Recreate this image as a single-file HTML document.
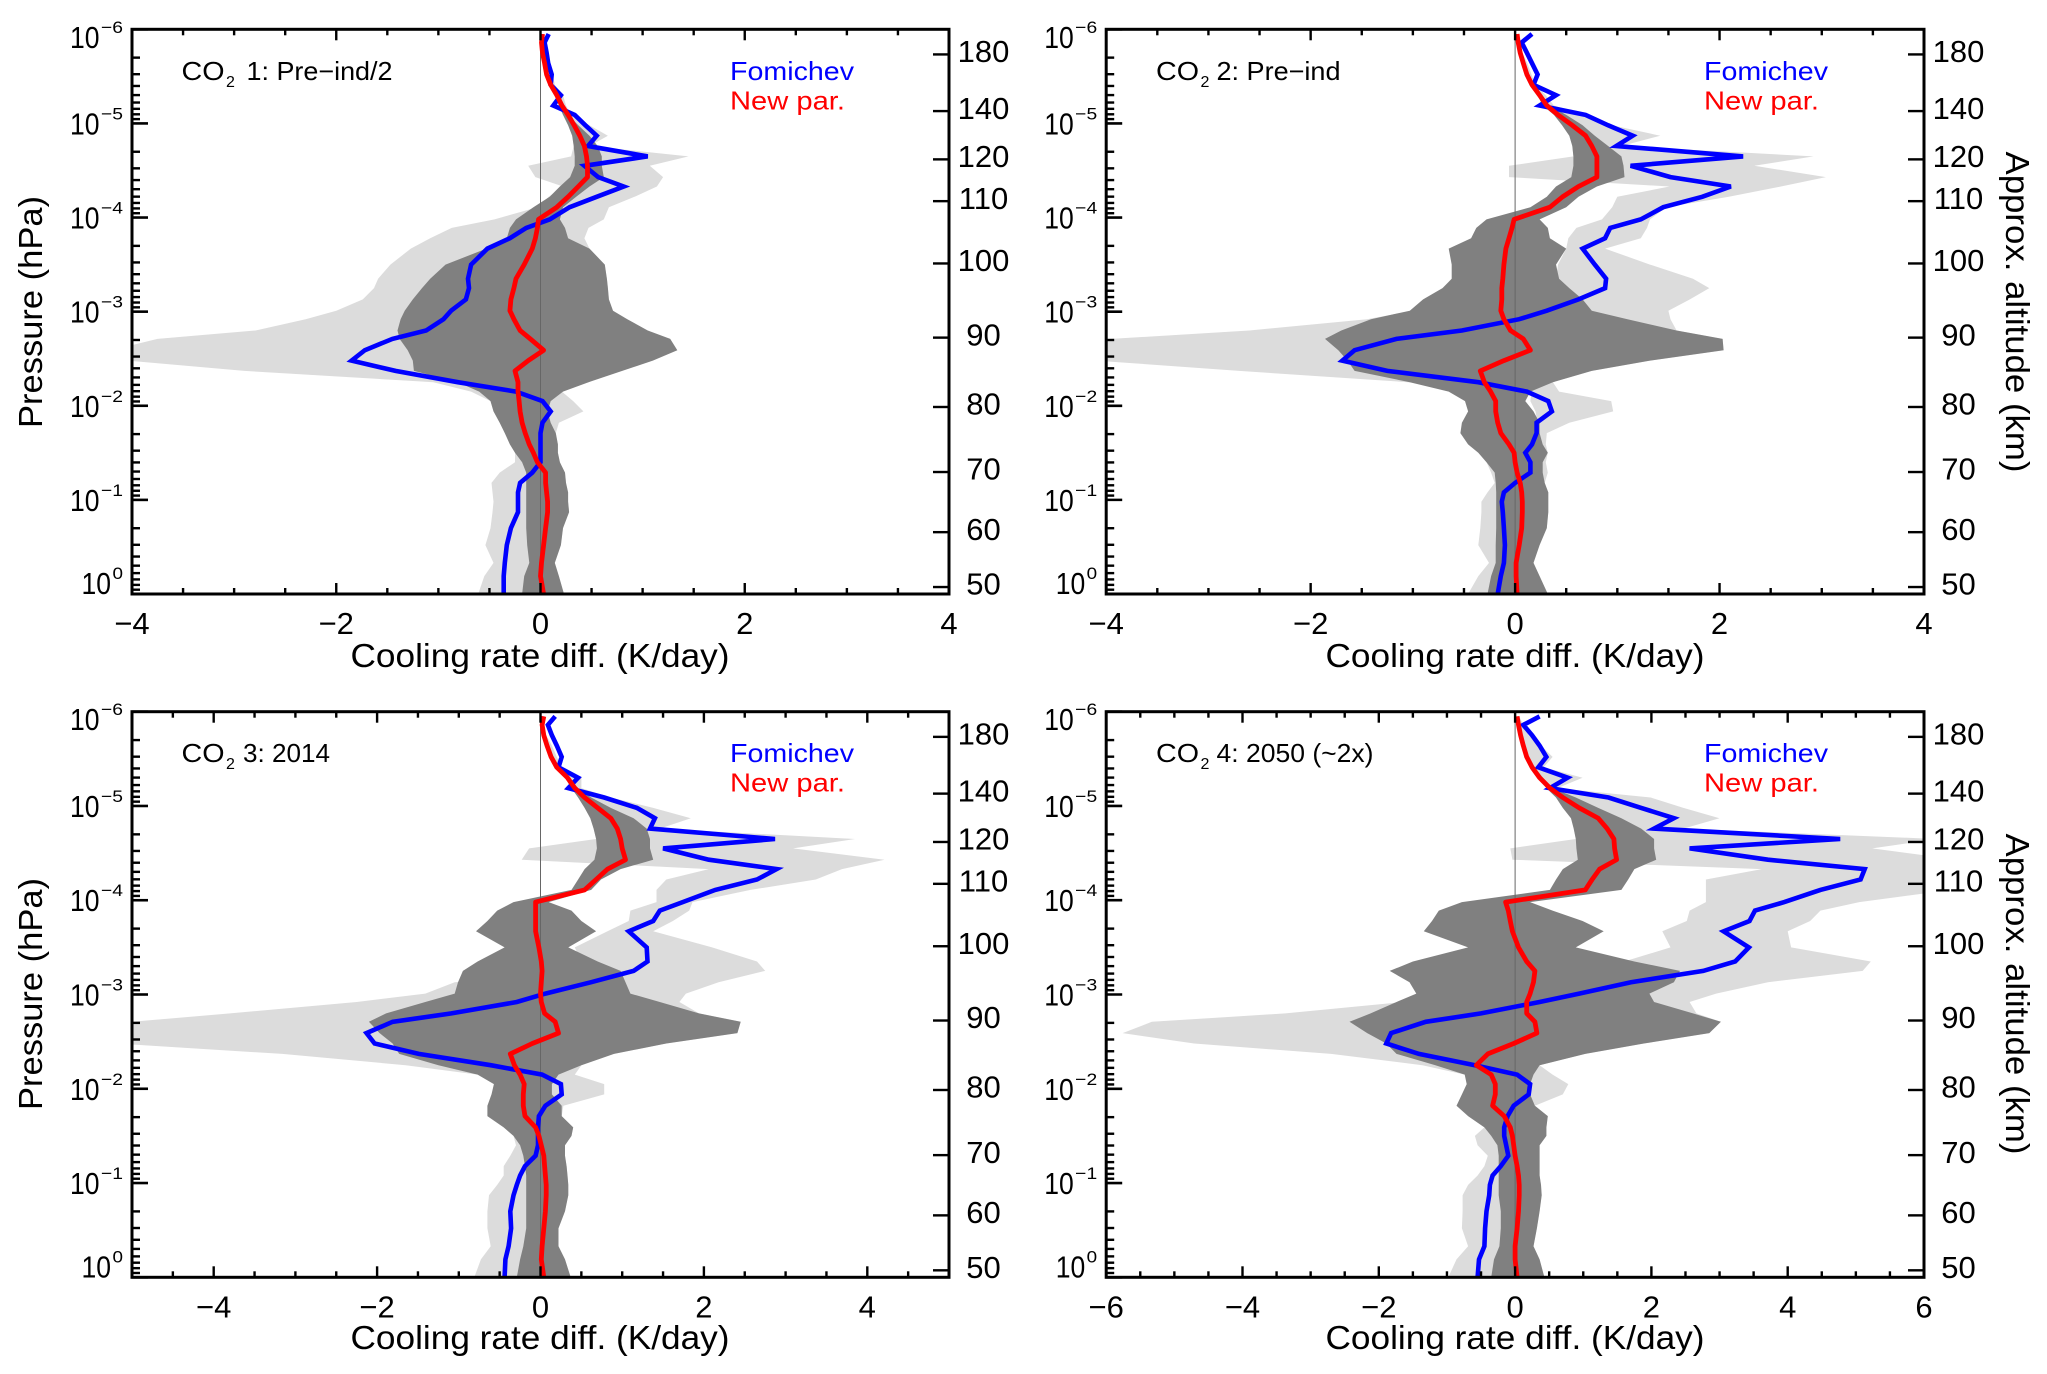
<!DOCTYPE html>
<html lang="en">
<head>
<meta charset="utf-8">
<title>CO2 cooling rate differences</title>
<style>
html,body{margin:0;padding:0;background:#fff;}
svg{display:block;font-family:"Liberation Sans",sans-serif;fill:#000;}
</style>
</head>
<body>
<svg id="figure" xmlns="http://www.w3.org/2000/svg" width="2047" height="1374" viewBox="0 0 2047 1374">
  <rect x="0" y="0" width="2047" height="1374" fill="#fff"/>
  <g id="panel-1"></g>
  <g id="panel-2"></g>
  <g id="panel-3"></g>
  <g id="panel-4"></g>

  <g>
    <text x="181.5" y="80" font-size="26" textLength="43" lengthAdjust="spacingAndGlyphs">CO</text>
    <text x="226" y="87" font-size="16">2</text>
    <text x="246.5" y="80" font-size="26" textLength="146" lengthAdjust="spacingAndGlyphs">1: Pre−ind/2</text>
    <text x="730" y="80" font-size="26" style="fill:#0000ff" textLength="124" lengthAdjust="spacingAndGlyphs">Fomichev</text>
    <text x="730" y="109.5" font-size="26" style="fill:#ff0000" textLength="115" lengthAdjust="spacingAndGlyphs">New par.</text>
    <text x="540" y="667" font-size="33" text-anchor="middle" textLength="379" lengthAdjust="spacingAndGlyphs">Cooling rate diff. (K/day)</text>
    <text transform="translate(42,312) rotate(-90)" font-size="33" text-anchor="middle" textLength="232" lengthAdjust="spacingAndGlyphs">Pressure (hPa)</text>
  </g>
  <g>
    <text x="1156" y="80" font-size="26" textLength="43" lengthAdjust="spacingAndGlyphs">CO</text>
    <text x="1200.5" y="87" font-size="16">2</text>
    <text x="1216.5" y="80" font-size="26" textLength="124" lengthAdjust="spacingAndGlyphs">2: Pre−ind</text>
    <text x="1704" y="80" font-size="26" style="fill:#0000ff" textLength="124" lengthAdjust="spacingAndGlyphs">Fomichev</text>
    <text x="1704" y="109.5" font-size="26" style="fill:#ff0000" textLength="115" lengthAdjust="spacingAndGlyphs">New par.</text>
    <text x="1515" y="667" font-size="33" text-anchor="middle" textLength="379" lengthAdjust="spacingAndGlyphs">Cooling rate diff. (K/day)</text>
    <text transform="translate(2006,312) rotate(90)" font-size="33" text-anchor="middle" textLength="321" lengthAdjust="spacingAndGlyphs">Approx. altitude (km)</text>
  </g>
  <g>
    <text x="181.5" y="762" font-size="26" textLength="43" lengthAdjust="spacingAndGlyphs">CO</text>
    <text x="226" y="769" font-size="16">2</text>
    <text x="243" y="762" font-size="26" textLength="87" lengthAdjust="spacingAndGlyphs">3: 2014</text>
    <text x="730" y="762" font-size="26" style="fill:#0000ff" textLength="124" lengthAdjust="spacingAndGlyphs">Fomichev</text>
    <text x="730" y="791.5" font-size="26" style="fill:#ff0000" textLength="115" lengthAdjust="spacingAndGlyphs">New par.</text>
    <text x="540" y="1349" font-size="33" text-anchor="middle" textLength="379" lengthAdjust="spacingAndGlyphs">Cooling rate diff. (K/day)</text>
    <text transform="translate(42,994) rotate(-90)" font-size="33" text-anchor="middle" textLength="232" lengthAdjust="spacingAndGlyphs">Pressure (hPa)</text>
  </g>
  <g>
    <text x="1156" y="762" font-size="26" textLength="43" lengthAdjust="spacingAndGlyphs">CO</text>
    <text x="1200.5" y="769" font-size="16">2</text>
    <text x="1216.5" y="762" font-size="26" textLength="157" lengthAdjust="spacingAndGlyphs">4: 2050 (~2x)</text>
    <text x="1704" y="762" font-size="26" style="fill:#0000ff" textLength="124" lengthAdjust="spacingAndGlyphs">Fomichev</text>
    <text x="1704" y="791.5" font-size="26" style="fill:#ff0000" textLength="115" lengthAdjust="spacingAndGlyphs">New par.</text>
    <text x="1515" y="1349" font-size="33" text-anchor="middle" textLength="379" lengthAdjust="spacingAndGlyphs">Cooling rate diff. (K/day)</text>
    <text transform="translate(2006,994) rotate(90)" font-size="33" text-anchor="middle" textLength="321" lengthAdjust="spacingAndGlyphs">Approx. altitude (km)</text>
  </g>
</svg>
<script>
// Shared vertical grid: log10(pressure / hPa)
var logP = [-5.95,-5.86,-5.75,-5.64,-5.52,-5.41,-5.30,-5.19,-5.09,-4.98,-4.87,-4.76,-4.65,-4.55,-4.43,-4.33,-4.22,-4.11,-3.98,-3.89,-3.78,-3.67,-3.50,-3.35,-3.25,-3.13,-3.01,-2.92,-2.80,-2.71,-2.59,-2.48,-2.37,-2.25,-2.15,-2.05,-1.94,-1.82,-1.71,-1.59,-1.50,-1.40,-1.29,-1.18,-1.08,-0.98,-0.87,-0.70,-0.52,-0.33,-0.19,0];

// Right-hand altitude axis
var altitudeLabels = [180,140,120,110,100,90,80,70,60,50];
var altitudeLogP = [-5.733,-5.131,-4.618,-4.174,-3.512,-2.724,-1.987,-1.296,-0.657,-0.074];
var pressureDecades = [-6,-5,-4,-3,-2,-1,0];

// Panel 1 values (K/day)
var p1Fomichev = [.08,.04,.06,.075,.11,.10,.20,.125,.335,.44,.55,.465,1.05,.43,.565,.815,.55,.285,.09,-.14,-.30,-.52,-.68,-.71,-.70,-.73,-.875,-.95,-1.12,-1.45,-1.72,-1.85,-1.42,-.81,-.24,.02,.10,.02,0,0,0,0,-.08,-.20,-.22,-.22,-.22,-.29,-.33,-.35,-.36,-.36];
var p1New = [.02,.01,.02,.04,.06,.10,.16,.21,.27,.33,.385,.43,.45,.46,.46,.37,.27,.16,-.02,-.03,-.05,-.08,-.16,-.24,-.26,-.29,-.30,-.26,-.20,-.10,.03,-.12,-.25,-.22,-.22,-.21,-.20,-.18,-.15,-.11,-.07,-.03,.05,.05,.06,.07,.07,.05,.03,.01,0,.03];
var p1DarkLo = [.01,0,.01,.03,.05,.09,.14,.18,.22,.27,.31,.325,.335,.335,.29,.19,.09,-.07,-.24,-.30,-.33,-.53,-.93,-1.08,-1.16,-1.25,-1.33,-1.37,-1.40,-1.38,-1.30,-1.25,-1.24,-.81,-.60,-.49,-.46,-.40,-.35,-.30,-.25,-.18,-.14,-.14,-.14,-.14,-.14,-.14,-.13,-.11,-.16,-.18];
var p1DarkHi = [.03,.02,.03,.05,.07,.11,.17,.22,.27,.37,.48,.56,.60,.60,.62,.48,.35,.22,.19,.24,.27,.48,.63,.65,.66,.67,.71,.85,1.05,1.27,1.34,1.10,.80,.47,.22,.10,.07,.10,.15,.17,.17,.19,.24,.25,.27,.27,.28,.22,.20,.14,.18,.23];
var p1LightLo = [.01,0,.01,.03,.05,.09,.14,.18,.22,.27,.31,.325,.30,-.12,-.05,.22,.08,-.03,-.45,-.87,-1.08,-1.27,-1.47,-1.59,-1.63,-1.74,-2.0,-2.3,-2.79,-3.75,-4.2,-4.05,-2.9,-1.05,-.68,-.49,-.46,-.40,-.35,-.30,-.25,-.25,-.40,-.48,-.47,-.46,-.47,-.49,-.54,-.46,-.55,-.61];
var p1LightHi = [.03,.03,.05,.07,.12,.14,.22,.25,.30,.48,.66,.48,1.45,1.07,1.2,1.14,.92,.67,.62,.47,.43,.48,.63,.65,.66,.67,.71,.85,1.05,1.27,1.34,1.10,.80,.47,.21,.32,.42,.18,.15,.17,.17,.19,.24,.25,.27,.27,.28,.22,.20,.14,.18,.23];

// Panel 2 values (K/day)
var p2Fomichev = [.165,.065,.115,.165,.22,.18,.40,.24,.69,.91,1.15,.99,2.23,1.13,1.52,2.11,1.83,1.45,1.23,.93,.88,.66,.78,.89,.88,.62,.31,.04,-.52,-1.16,-1.57,-1.69,-1.25,-.36,.115,.325,.36,.21,.21,.165,.10,.15,.15,0,-.11,-.13,-.12,-.11,-.10,-.11,-.14,-.17];
var p2New = [.02,.03,.05,.08,.115,.165,.24,.31,.42,.56,.69,.75,.80,.80,.80,.62,.465,.34,-.01,-.03,-.06,-.09,-.11,-.12,-.13,-.13,-.14,-.11,-.045,.08,.15,-.11,-.34,-.30,-.24,-.19,-.19,-.17,-.14,-.06,-.01,0,.02,.05,.065,.07,.07,.065,.04,.01,.01,.02];
var p2DarkLo = [.01,.02,.03,.06,.10,.15,.22,.27,.38,.46,.53,.56,.57,.57,.55,.40,.31,.15,-.28,-.38,-.43,-.65,-.62,-.62,-.71,-.90,-1.03,-1.41,-1.70,-1.86,-1.73,-1.64,-1.57,-1.03,-.65,-.49,-.46,-.52,-.535,-.46,-.36,-.28,-.20,-.19,-.185,-.185,-.185,-.185,-.19,-.19,-.235,-.27];
var p2DarkHi = [.03,.03,.05,.10,.135,.185,.26,.34,.50,.66,.78,.91,1.04,1.06,1.07,.80,.62,.50,.24,.32,.34,.50,.40,.43,.53,.66,.75,1.10,1.58,2.03,2.04,1.32,.75,.37,.15,.10,.18,.24,.24,.27,.32,.27,.27,.29,.325,.325,.325,.31,.24,.18,.24,.32];
var p2LightLo = [.01,.02,.03,.06,.10,.15,.22,.27,.38,.46,.53,.56,.57,-.06,-.06,1.51,1.0,.95,.85,.6,.52,.50,.42,.40,.40,.30,-1.0,-1.45,-2.6,-3.95,-4.3,-4.1,-2.7,-1.05,.16,.15,.2,.22,-.535,-.46,-.36,-.28,-.235,-.2,-.27,-.33,-.33,-.34,-.36,-.255,-.36,-.46];
var p2LightHi = [.03,.03,.07,.12,.16,.2,.3,.38,.69,.95,1.42,1.04,2.92,2.34,3.04,2.6,2.09,1.48,1.32,1.29,1.23,.88,1.32,1.74,1.90,1.71,1.50,1.52,1.58,2.03,2.04,1.32,.75,.37,.43,.94,.96,.53,.31,.30,.32,.30,.32,.29,.325,.325,.325,.31,.24,.18,.24,.32];

// Panel 3 values (K/day)
var p3Fomichev = [.18,.09,.14,.20,.26,.22,.46,.34,.78,1.18,1.40,1.34,2.87,1.50,2.06,2.89,2.65,2.14,1.74,1.46,1.38,1.08,1.30,1.31,1.14,.62,.06,-.29,-1.09,-1.81,-2.13,-2.03,-1.49,-.61,.02,.25,.26,.06,-.02,-.03,-.03,-.03,-.06,-.19,-.25,-.29,-.33,-.37,-.36,-.39,-.43,-.44];
var p3New = [.04,.02,.04,.08,.13,.20,.33,.42,.54,.70,.86,.94,.98,1.0,1.04,.82,.68,.54,-.06,-.06,-.06,-.06,-.02,.01,.02,.01,0,.01,.05,.18,.22,-.10,-.37,-.32,-.25,-.20,-.21,-.21,-.19,-.06,-.02,.01,.04,.05,.06,.07,.07,.06,.04,.02,.01,.04];
var p3DarkLo = [.03,.02,.03,.06,.11,.18,.30,.38,.46,.54,.61,.65,.68,.69,.66,.54,.46,.38,-.33,-.53,-.65,-.79,-.44,-.77,-.95,-1.01,-1.05,-1.41,-1.89,-2.10,-1.97,-1.81,-1.73,-1.25,-.77,-.57,-.60,-.65,-.65,-.45,-.33,-.25,-.21,-.19,-.175,-.175,-.175,-.175,-.175,-.21,-.25,-.29];
var p3DarkHi = [.05,.03,.05,.10,.15,.22,.35,.46,.62,.86,1.14,1.30,1.34,1.34,1.38,.98,.74,.62,.10,.38,.50,.68,.34,.70,.98,1.04,1.10,1.46,1.94,2.45,2.41,1.54,.90,.50,.22,.14,.14,.26,.26,.40,.38,.30,.30,.32,.33,.34,.34,.30,.22,.22,.30,.37];
var p3LightLo = [.03,.02,.03,.06,.11,.18,.30,.38,.46,.54,.61,.65,.68,-.14,-.23,2.06,1.54,1.42,1.42,1.10,1.08,.82,.42,.5,.6,-1.05,-1.41,-2.25,-3.8,-5.0,-5.3,-5.2,-3.16,-1.65,-.77,.12,.12,.2,-.65,-.45,-.33,-.30,-.37,-.45,-.45,-.53,-.63,-.65,-.65,-.61,-.73,-.81];
var p3LightHi = [.05,.04,.07,.14,.2,.26,.5,.5,.86,1.38,1.84,1.46,3.85,3.09,4.21,3.69,3.37,2.57,1.86,1.82,1.62,1.38,2.10,2.65,2.75,2.18,1.78,1.70,1.94,2.45,2.41,1.54,.90,.50,.42,.78,.78,.28,.26,.40,.38,.30,.30,.32,.33,.34,.34,.30,.22,.22,.30,.37];

// Panel 4 values (K/day)
var p4Fomichev = [.36,.12,.25,.36,.46,.34,.77,.51,1.37,1.85,2.33,2.04,4.77,2.56,3.71,5.13,5.07,4.48,3.95,3.52,3.44,3.06,3.43,3.23,2.76,1.70,.94,.36,-.50,-1.31,-1.82,-1.89,-1.41,-.59,.03,.22,.20,-.02,-.11,-.16,-.16,-.13,-.10,-.21,-.33,-.37,-.38,-.42,-.44,-.45,-.53,-.55];
var p4New = [.03,.05,.08,.12,.17,.25,.36,.51,.70,.94,1.22,1.35,1.45,1.46,1.49,1.24,1.13,1.03,-.14,-.10,-.07,-.04,.05,.17,.29,.27,.22,.17,.17,.29,.32,-.02,-.40,-.57,-.35,-.29,-.29,-.33,-.16,-.07,-.04,-.02,0,.03,.05,.06,.06,.05,.03,0,0,.03];
var p4DarkLo = [.02,.03,.06,.10,.15,.22,.33,.46,.60,.70,.82,.86,.89,.90,.92,.70,.60,.51,-.78,-1.12,-1.22,-1.34,-.69,-1.50,-1.84,-1.55,-1.45,-1.74,-2.12,-2.43,-2.17,-1.89,-1.74,-1.17,-.74,-.71,-.78,-.86,-.69,-.45,-.35,-.26,-.24,-.24,-.24,-.24,-.24,-.21,-.21,-.23,-.31,-.35];
var p4DarkHi = [.04,.07,.10,.14,.20,.28,.41,.55,.89,1.22,1.56,1.85,2.04,2.04,2.07,1.75,1.66,1.56,.22,.55,.99,1.30,.89,1.75,2.42,2.33,1.97,2.04,2.61,3.02,2.85,1.89,1.03,.36,.27,.22,.22,.29,.48,.46,.46,.36,.36,.36,.36,.38,.39,.36,.32,.27,.36,.43];
var p4LightLo = [.02,.03,.06,.10,.15,.22,.33,.46,.60,.70,.82,.86,.89,-.07,-.04,3.62,2.8,2.8,2.8,2.56,2.52,2.16,2.28,1.6,1.0,-1.5,-1.45,-1.65,-3.37,-5.33,-5.76,-4.71,-2.7,-1.36,-.74,.15,.2,.25,-.69,-.45,-.59,-.55,-.40,-.45,-.55,-.69,-.77,-.77,-.78,-.69,-.86,-.98];
var p4LightHi = [.06,.12,.2,.38,.55,.42,.99,.62,1.99,2.47,3.0,2.47,6.2,5.24,6.5,6.5,6.5,6.4,5.05,4.48,4.33,4.0,4.05,5.22,5.1,3.71,2.95,2.56,2.66,3.02,2.85,1.89,1.03,.36,.55,.78,.70,.29,.48,.46,.46,.36,.36,.36,.36,.38,.39,.36,.32,.27,.36,.43];

// X axis tick labels per panel
var p1XTicks = [-4,-2,0,2,4];
var p2XTicks = [-4,-2,0,2,4];
var p3XTicks = [-4,-2,0,2,4];
var p4XTicks = [-6,-4,-2,0,2,4,6];

var NS = 'http://www.w3.org/2000/svg';
function make(parent, tag, attrs, text) {
  var e = document.createElementNS(NS, tag);
  for (var k in attrs) e.setAttribute(k, attrs[k]);
  if (text !== undefined) e.textContent = text;
  parent.appendChild(e);
  return e;
}

function drawPanel(cfg) {
  var g = document.getElementById(cfg.id);
  var xScale = function (v) { return cfg.left + (v - cfg.xMin) / (cfg.xMax - cfg.xMin) * (cfg.right - cfg.left); };
  var yScale = function (p) { return cfg.top + (p + 6) / 6 * (cfg.bottom - cfg.top); };
  var clipId = cfg.id + '-clip';
  var defs = make(g, 'defs', {});
  var clip = make(defs, 'clipPath', { id: clipId });
  make(clip, 'rect', { x: cfg.left, y: cfg.top, width: cfg.right - cfg.left, height: cfg.bottom - cfg.top });

  var plot = make(g, 'g', { 'clip-path': 'url(#' + clipId + ')' });
  
  

  function bandPoints(lo, hi) {
    var pts = [];
    for (var i = 0; i < logP.length; i++) pts.push(xScale(lo[i]).toFixed(1) + ',' + yScale(logP[i]).toFixed(1));
    for (var j = logP.length - 1; j >= 0; j--) pts.push(xScale(hi[j]).toFixed(1) + ',' + yScale(logP[j]).toFixed(1));
    return pts.join(' ');
  }
  function linePoints(values) {
    var pts = [];
    for (var i = 0; i < logP.length; i++) pts.push(xScale(values[i]).toFixed(1) + ',' + yScale(logP[i]).toFixed(1));
    return pts.join(' ');
  }

  var light = make(plot, 'polygon', { points: bandPoints(cfg.lightLo, cfg.lightHi), style: 'fill:#dcdcdc;stroke:none' });
  
  

  var dark = make(plot, 'polygon', { points: bandPoints(cfg.darkLo, cfg.darkHi), style: 'fill:#808080;stroke:none' });
  
  

  var zero = make(plot, 'line', { x1: xScale(0), x2: xScale(0), y1: cfg.top, y2: cfg.bottom, style: 'stroke:#666;stroke-width:1;fill:none' });
  
  

  var fom = make(plot, 'polyline', { points: linePoints(cfg.fomichev), style: 'fill:none;stroke:#0000ff;stroke-width:4.6;stroke-linejoin:miter;stroke-miterlimit:4' });
  
  

  var red = make(plot, 'polyline', { points: linePoints(cfg.newPar), style: 'fill:none;stroke:#ff0000;stroke-width:4.8;stroke-linejoin:round' });
  
  

  var axes = make(g, 'g', { style: 'stroke:#000;fill:none;stroke-width:2.4' });
  
  

  var v, m, x, y;
  // x ticks (top and bottom) every 0.5, majors on the labelled even values
  for (v = cfg.xMin; v <= cfg.xMax + 1e-6; v += 0.5) {
    var isMajor = Math.abs(v / 2 - Math.round(v / 2)) < 1e-6;
    var len = isMajor ? 11 : 6;
    x = xScale(v);
    make(axes, 'line', { x1: x, x2: x, y1: cfg.bottom, y2: cfg.bottom - len });
    make(axes, 'line', { x1: x, x2: x, y1: cfg.top, y2: cfg.top + len });
  }
  // y ticks (left, log decades)
  for (var d = 0; d < pressureDecades.length; d++) {
    y = yScale(pressureDecades[d]);
    make(axes, 'line', { x1: cfg.left, x2: cfg.left + 16, y1: y, y2: y, 'stroke-width': 2.6 });
    if (d < pressureDecades.length - 1) {
      for (m = 2; m <= 9; m++) {
        y = yScale(pressureDecades[d] + Math.log10(m));
        make(axes, 'line', { x1: cfg.left, x2: cfg.left + 8, y1: y, y2: y });
      }
    }
  }
  // right altitude ticks
  for (var a = 0; a < altitudeLabels.length; a++) {
    y = yScale(altitudeLogP[a]);
    make(axes, 'line', { x1: cfg.right, x2: cfg.right - 16, y1: y, y2: y });
  }

  var box = make(g, 'rect', { x: cfg.left, y: cfg.top, width: cfg.right - cfg.left, height: cfg.bottom - cfg.top, style: 'fill:none;stroke:#000;stroke-width:3' });
  
  

  // x tick labels
  cfg.xTicks.forEach(function (t) {
    var label = make(g, 'text', { x: xScale(t), y: cfg.bottom + 40, 'font-size': 31, 'text-anchor': 'middle' }, (t < 0 ? '\u2212' : '') + Math.abs(t));
    
    
  });

  // y tick labels
  pressureDecades.forEach(function (p, i) {
    var tickY = yScale(p);
    var base = tickY + 11;
    if (i === 0) base = tickY + 18.5;
    if (i === pressureDecades.length - 1) base = tickY;
    var right = cfg.left - 9;
    var supWidth = p === 0 ? 10.5 : 22;
    var ten = make(g, 'text', { x: right - supWidth - 1.5 - 29.5, y: base, 'font-size': 31, textLength: 29.5, lengthAdjust: 'spacingAndGlyphs' }, '10');
    
    
    var sup = make(g, 'text', { x: right - supWidth, y: base - 15, 'font-size': 17, textLength: supWidth, lengthAdjust: 'spacingAndGlyphs' }, p === 0 ? '0' : '\u2212' + Math.abs(p));
    
    
  });

  // altitude labels
  altitudeLabels.forEach(function (h, i) {
    var label = make(g, 'text', { x: cfg.right + 34.5, y: yScale(altitudeLogP[i]) + 7.7, 'font-size': 31, 'text-anchor': 'middle' }, String(h));
    
    
  });
}

drawPanel({ id: 'panel-1', left: 132, right: 949, top: 29.3, bottom: 594, xMin: -4, xMax: 4, xTicks: p1XTicks, fomichev: p1Fomichev, newPar: p1New, darkLo: p1DarkLo, darkHi: p1DarkHi, lightLo: p1LightLo, lightHi: p1LightHi });
drawPanel({ id: 'panel-2', left: 1106.2, right: 1924, top: 29.3, bottom: 594, xMin: -4, xMax: 4, xTicks: p2XTicks, fomichev: p2Fomichev, newPar: p2New, darkLo: p2DarkLo, darkHi: p2DarkHi, lightLo: p2LightLo, lightHi: p2LightHi });
drawPanel({ id: 'panel-3', left: 132, right: 949, top: 711.7, bottom: 1277.3, xMin: -5, xMax: 5, xTicks: p3XTicks, fomichev: p3Fomichev, newPar: p3New, darkLo: p3DarkLo, darkHi: p3DarkHi, lightLo: p3LightLo, lightHi: p3LightHi });
drawPanel({ id: 'panel-4', left: 1106.2, right: 1924, top: 711.7, bottom: 1277.3, xMin: -6, xMax: 6, xTicks: p4XTicks, fomichev: p4Fomichev, newPar: p4New, darkLo: p4DarkLo, darkHi: p4DarkHi, lightLo: p4LightLo, lightHi: p4LightHi });
</script>
</body>
</html>
